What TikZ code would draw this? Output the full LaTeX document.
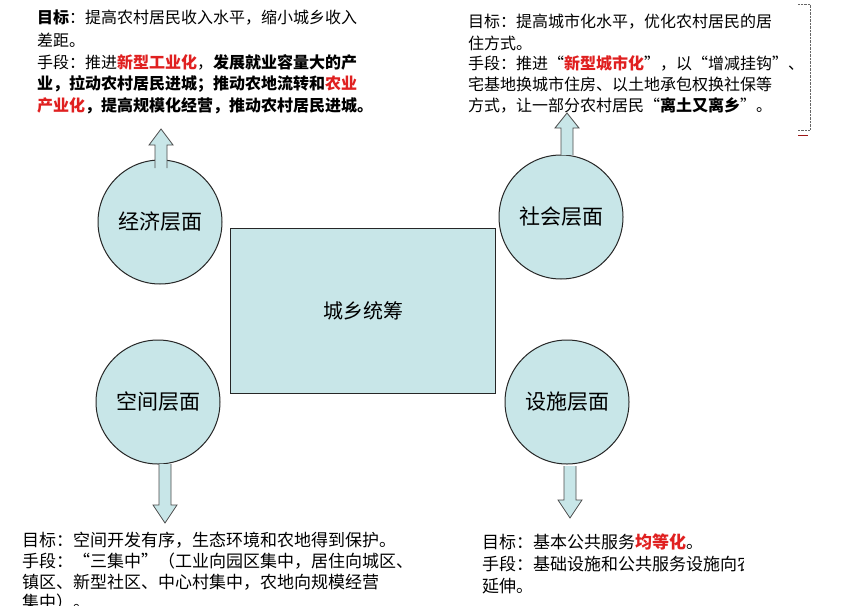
\documentclass[tikz,border=0pt]{standalone}
\usepackage{fontspec}
\setmainfont{Noto Sans CJK SC}
\begin{document}
\definecolor{fillc}{HTML}{C8E6E8}
\definecolor{redc}{HTML}{E02020}
\begin{tikzpicture}[x=1pt,y=-1pt,
  circ/.style={circle,draw=black!85,line width=1pt,fill=fillc,minimum size=124pt,font=\fontsize{21}{21}\selectfont},
  txt/.style={anchor=west,inner sep=0pt,font=\fontsize{16}{16}\selectfont},
  txtb/.style={anchor=west,inner sep=0pt,font=\fontsize{17}{17}\selectfont},
  arr/.style={draw=black!70,fill=fillc,line width=0.8pt}]
\useasboundingbox (0,0) rectangle (842,605);
\fill[white] (0,0) rectangle (842,605);
\node[circ] (e) at (160,222) {经济层面};
\node[circ] (k) at (158,402) {空间层面};
\node[circ] (s) at (561,217) {社会层面};
\node[circ] (f) at (567,402) {设施层面};
\node[draw=black!85,line width=1pt,fill=fillc,minimum width=265pt,minimum height=165pt,anchor=north west,font=\fontsize{20}{20}\selectfont] (c) at (230,228) {城乡统筹};
% arrows
\path[arr] (155,168) -- (155,145) -- (149,145) -- (161,129) -- (173,145) -- (167,145) -- (167,168);
\path[arr] (561,155) -- (561,128) -- (555,128) -- (567,113) -- (579,128) -- (573,128) -- (573,155);
\path[arr] (159,464) -- (159,505) -- (153,505) -- (165,523) -- (177,505) -- (171,505) -- (171,464);
\path[arr] (564,466) -- (564,500) -- (558,500) -- (570,518) -- (582,500) -- (576,500) -- (576,466);
% top-left text
\node[txt] (a1) at (37,18) {\textbf{目标}：提高农村居民收入水平，缩小城乡收入};
\node[txt] (a2) at (37,40) {差距。};
\node[txt] (a3) at (37,62) {手段：推进\textcolor{redc}{\textbf{新型工业化}}，\textbf{发展就业容量大的产}};
\node[txt] (a4) at (37,84) {\textbf{业，拉动农村居民进城；推动农地流转和}\textcolor{redc}{\textbf{农业}}};
\node[txt] (a5) at (37,106) {\textcolor{redc}{\textbf{产业化}}\textbf{，提高规模化经营，推动农村居民进城。}};
% top-right text
\node[txt] (b1) at (468,22) {目标：提高城市化水平，优化农村居民的居};
\node[txt] (b2) at (468,43) {住方式。};
\node[txt] (b3) at (468,63) {手段：推进“\textcolor{redc}{\textbf{新型城市化}}”，以“增减挂钩”、};
\node[txt] (b4) at (468,84) {宅基地换城市住房、以土地承包权换社保等};
\node[txt] (b5) at (468,105) {方式，让一部分农村居民“\textbf{离土又离乡}”。};
\draw[densely dotted,black!60] (798,4) -- (810,4) -- (810,130) -- (798,130);
\draw[redc!70!black,line width=0.8pt] (798,135) -- (808,135);
% bottom-left text
\node[txtb] (c1) at (22,540) {目标：空间开发有序，生态环境和农地得到保护。};
\node[txtb] (c2) at (22,561) {手段：“三集中”（工业向园区集中，居住向城区、};
\node[txtb] (c3) at (22,582) {镇区、新型社区、中心村集中，农地向规模经营};
\node[txtb] (c4) at (22,602) {集中）。};
% bottom-right text
\node[txtb] (d1) at (482,542) {目标：基本公共服务\textcolor{redc}{\textbf{均等化}}。};
\node[txtb] (d2) at (482,564) {手段：基础设施和公共服务设施向农};
\node[txtb] (d3) at (482,586) {延伸。};
\shade[left color=white!0,right color=white] (744,548) rectangle (762,580);
\fill[white] (762,548) rectangle (842,580);
\end{tikzpicture}
\end{document}
